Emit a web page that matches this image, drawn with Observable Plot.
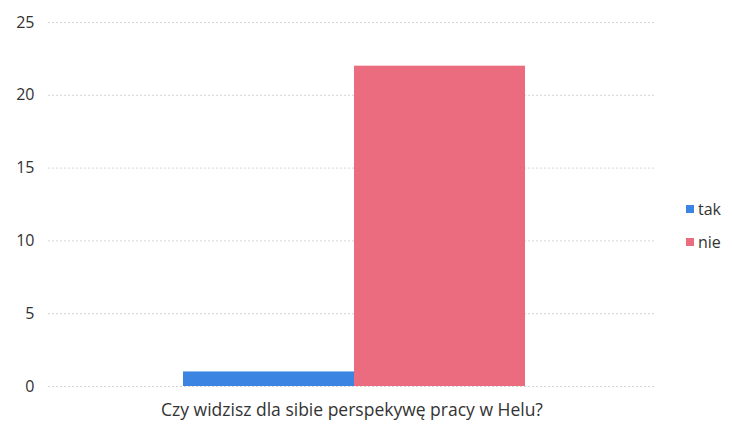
<!DOCTYPE html>
<html>
<head>
<meta charset="utf-8">
<script src="https://cdn.jsdelivr.net/npm/d3@7"></script>
<script src="https://cdn.jsdelivr.net/npm/@observablehq/plot@0.6"></script>
<style>
  html, body { margin: 0; padding: 0; background: #fff; }
  body { width: 732px; height: 432px; position: relative; overflow: hidden; font-family: "Open Sans", sans-serif; color: #333; }
  #chart { position: absolute; left: 0; top: 0; }
  #caption { position: absolute; top: 397px; left: 0; width: 704px; text-align: center; font-size: 17.5px; color: #333; }
  #legend { position: absolute; left: 686px; top: 198px; font-size: 16px; color: #333; }
  #legend .item { display: flex; align-items: center; height: 22px; margin-bottom: 11px; }
  #legend .sw { width: 8px; height: 8px; margin-right: 4px; }
</style>
</head>
<body>
<div id="chart"></div>
<div id="caption"></div>
<div id="legend"></div>
<script>
const categories = ["tak", "nie"];
const values = [1, 22];
const colors = ["#3b84e2", "#ea6c7e"];
const yTicks = [0, 5, 10, 15, 20, 25];
const question = "Czy widzisz dla sibie perspekywę pracy w Helu?";

const data = categories.map((c, i) => ({answer: c, count: values[i]}));

const plot = Plot.plot({
  width: 732,
  height: 398,
  marginTop: 22,
  marginBottom: 12,
  marginLeft: 48,
  marginRight: 77,
  style: {fontFamily: "Open Sans, sans-serif", fontSize: "16px", color: "#333", background: "transparent", overflow: "visible"},
  x: {domain: categories, range: [182, 525], padding: 0, axis: null},
  y: {domain: [0, 25], ticks: yTicks, label: null, tickSize: 0, tickPadding: 14},
  color: {domain: categories, range: colors},
  marks: [
    Plot.ruleY(yTicks, {stroke: "#d6d6d6", strokeDasharray: "2,2", strokeWidth: 1}),
    Plot.barY(data, {x: "answer", y: "count", fill: "answer"}),
    Plot.axisY({ticks: yTicks, tickSize: 0, tickPadding: 14, label: null, fill: "#333"})
  ]
});
document.getElementById("chart").appendChild(plot);
document.getElementById("caption").textContent = question;

const legend = document.getElementById("legend");
categories.forEach((c, i) => {
  const item = document.createElement("div");
  item.className = "item";
  const sw = document.createElement("span");
  sw.className = "sw";
  sw.style.background = colors[i];
  const t = document.createElement("span");
  t.textContent = c;
  item.appendChild(sw);
  item.appendChild(t);
  legend.appendChild(item);
});
</script>
</body>
</html>
